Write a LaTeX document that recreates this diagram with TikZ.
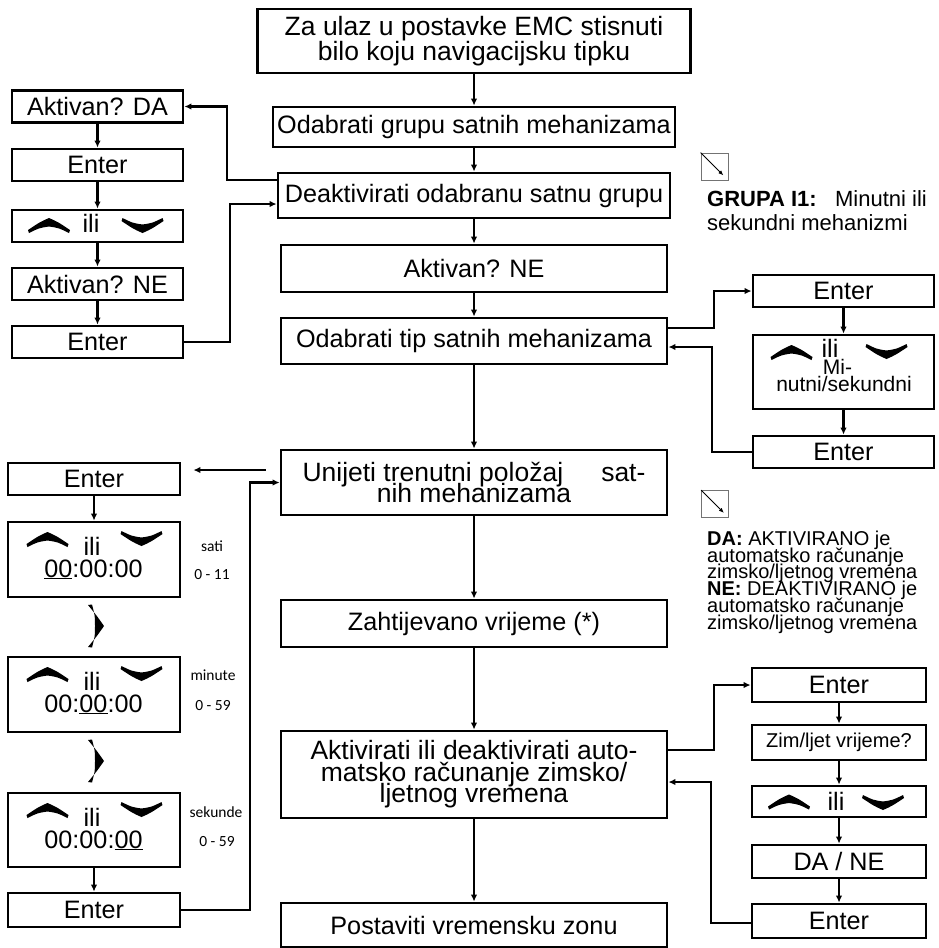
\documentclass[tikz,border=0pt]{standalone}
\usepackage{fontspec}
\setmainfont{Liberation Sans}
\newfontfamily\calibri{Carlito}
\usetikzlibrary{arrows.meta}
\lineskiplimit=-100pt

\begin{document}
\begin{tikzpicture}
	[x=1pt, y=-1pt,%
	box/.style ={draw, line width=2.8pt, inner sep=0pt, align=center, font=\fontsize{25.2}{25}\selectfont},%
	big/.style ={font=\fontsize{26.5}{21.5}\selectfont},%
	main/.style={box, minimum width=386pt},%
	lbox/.style={box, minimum width=171pt, minimum height=32pt},%
	tbox/.style={box, minimum width=172pt},%
	rbox/.style={box, minimum width=174pt},%
	txt/.style ={anchor=base, inner sep=0pt, font=\fontsize{25.2}{25}\selectfont},%
	lbl/.style ={inner sep=0pt, font=\calibri\fontsize{15.5}{16}\selectfont},%
	note/.style={anchor=north west, align=left, inner sep=0pt},%
	icon/.style={draw=black!55, line width=0.8pt, minimum size=27pt, inner sep=0pt},%
	conn/.style={line width=2.1pt, -{Latex[length=7pt,width=6.5pt]}},%
	upchev/.pic={\fill (-21,5) .. controls (-9,-3) .. (0,-7) .. controls (9,-3) .. (21,5) -- (20,8) .. controls (10,3) .. (0,1.5) .. controls (-10,3) .. (-20,8) -- cycle;},%
	dnchev/.pic={\fill (-21,-5) .. controls (-9,3) .. (0,7) .. controls (9,3) .. (21,-5) -- (20,-8) .. controls (10,-3) .. (0,-1.5) .. controls (-10,-3) .. (-20,-8) -- cycle;},%
	rtchev/.pic={\fill (-8,-21) .. controls (1,-10) .. (8,0) .. controls (1,10) .. (-8,21) -- (-4,21.5) .. controls (-1,10) .. (-1,0) .. controls (-1,-10) .. (-4,-21.5) -- cycle;},%
	]

	\useasboundingbox (0,0) rectangle (938,948);

	% main column
	\node[box, minimum width=433pt, minimum height=64pt, font=\fontsize{26.5}{25}\selectfont] (start) at (474,41) {Za ulaz u postavke EMC stisnuti\\bilo koju navigacijsku tipku};
	\node[box, minimum width=402pt, minimum height=40pt] (grupa) at (474,127) {Odabrati grupu satnih mehanizama};
	\node[box, minimum width=392pt, minimum height=45pt] (deakt) at (474,195.5) {Deaktivirati odabranu satnu grupu};
	\node[main, minimum height=47pt] (aktne) at (474,268.5) {Aktivan? NE};
	\node[main, minimum height=46pt] (tip) at (474,341) {Odabrati tip satnih mehanizama};
	\node[main, big, minimum height=65pt] (unos) at (474,482.5) {\makebox[343pt]{Unijeti trenutni položaj\hfill sat-}\\nih mehanizama};
	\node[main, minimum height=47pt] (zahtj) at (474,623.5) {Zahtijevano vrijeme (*)};
	\node[main, big, minimum height=87pt] (ljeto) at (474,774.5) {Aktivirati ili deaktivirati auto-\\matsko računanje zimsko/\\ljetnog vremena};
	\node[main, minimum height=44pt] (zona) at (474,925) {Postaviti vremensku zonu};

	% group on/off
	\node[lbox] (da) at (97.5,106.5) {Aktivan? DA};
	\node[lbox] (ent1) at (97.5,165) {Enter};
	\node[lbox] (ili1) at (97.5,226) {};
	\node[lbox] (ne) at (97.5,284) {Aktivan? NE};
	\node[lbox] (ent2) at (97.5,342) {Enter};
	\pic at (49,225) {upchev};
	\node[txt] (ili1t) at (91,232) {ili};
	\pic at (142.5,226) {dnchev};

	% clock type
	\node[box, minimum width=181pt, minimum height=32pt] (entA) at (843.5,291) {Enter};
	\node[box, minimum width=181pt, minimum height=74pt] (mins) at (843.5,372) {};
	\node[box, minimum width=181pt, minimum height=32pt] (entB) at (843.5,452) {Enter};
	\pic at (791.5,352) {upchev};
	\node[txt] (minst) at (830,357) {ili};
	\pic at (886.5,352) {dnchev};
	\node[txt, font=\fontsize{21}{21}\selectfont] (minsa) at (837.5,374) {Mi-};
	\node[txt, font=\fontsize{21}{21}\selectfont] (minsb) at (844,391) {nutni/sekundni};

	% time entry
	\node[tbox, minimum height=32pt] (entC) at (94,479) {Enter};
	\node[tbox, minimum height=75pt] (sati) at (94,559.5) {};
	\node[tbox, minimum height=75pt] (minu) at (94,694.5) {};
	\node[tbox, minimum height=74pt] (seku) at (94,830) {};
	\node[tbox, minimum height=34pt] (entD) at (94,910) {Enter};
	\foreach \y/\t in {522/{\underline{00}:00:00}, 657/{00:\underline{00}:00}, 793/{00:00:\underline{00}}}
	{
		\pic at (47.5,\y+17) {upchev};
		\node[txt] (ili\y) at (92,\y+33) {ili};
		\pic at (141.5,\y+17) {dnchev};
		\node[txt] (vr\y) at (93.5,\y+55) {\t};
	}
	\pic at (96,626) {rtchev};
	\pic at (96,761) {rtchev};

	\node[lbl] (satil) at (212,546) {sati};
	\node[lbl] (satir) at (212,575) {0 - 11};
	\node[lbl] (minl) at (213,675) {minute};
	\node[lbl] (minr) at (213,706) {0 - 59};
	\node[lbl] (sekl) at (216,812) {sekunde};
	\node[lbl] (sekr) at (217,842) {0 - 59};

	% summer time
	\node[rbox, minimum height=34pt] (entE) at (839,685) {Enter};
	\node[rbox, minimum height=35pt, font=\fontsize{20}{20}\selectfont] (zim) at (839,742.5) {Zim/ljet vrijeme?};
	\node[rbox, minimum height=31pt] (ili3) at (839,801.5) {};
	\node[rbox, minimum height=33pt] (dane) at (839,861.5) {DA / NE};
	\node[rbox, minimum height=34pt] (entF) at (839,921) {Enter};
	\pic at (789,801.5) {upchev};
	\node[txt] (ili3t) at (836,810) {ili};
	\pic at (883,803) {dnchev};

	% notes
	\node[icon] (ico1) at (714.5,166.5) {};
	\draw[line width=0.8pt, -{Latex[length=5pt,width=4pt]}] (ico1.north west) -- ([xshift=-5pt,yshift=5pt]ico1.south east);
	\node[note, font=\fontsize{22}{24}\selectfont] (grupan) at (707,190) {\textbf{GRUPA I1:}\ \ \ Minutni ili\\sekundni mehanizmi};

	\node[icon] (ico2) at (715,504) {};
	\draw[line width=0.8pt, -{Latex[length=5pt,width=4pt]}] (ico2.north west) -- ([xshift=-5pt,yshift=5pt]ico2.south east);
	\node[note, font=\fontsize{20}{16.8}\selectfont] (dan) at (707,530.5) {\textbf{DA:} AKTIVIRANO je\\automatsko računanje\\zimsko/ljetnog vremena\\\textbf{NE:} DEAKTIVIRANO je\\automatsko računanje\\zimsko/ljetnog vremena};

	% connections
	\draw[conn] (start) -- (grupa);
	\draw[conn] (grupa) -- (deakt);
	\draw[conn] (deakt) -- (aktne);
	\draw[conn] (aktne) -- (tip);
	\draw[conn] (tip) -- (unos);
	\draw[conn] (unos) -- (zahtj);
	\draw[conn] (zahtj) -- (ljeto);
	\draw[conn] (ljeto) -- (zona);

	\foreach \a/\b in {da/ent1, ent1/ili1, ili1/ne, ne/ent2, entA/mins, mins/entB, entC/sati, seku/entD, entE/zim, zim/ili3, ili3/dane, dane/entF}
		\draw[conn] (\a) -- (\b);

	\draw[conn] ([yshift=15.5pt]deakt.west) -- ++(-50,0) |- (da.east);
	\draw[conn] (ent2.east) -- ++(45.5,0) |- ([yshift=-8.5pt]deakt.west);

	\draw[conn] ([yshift=13pt]tip.east) -- ++(46,0) |- (entA.west);
	\draw[conn] (entB.west) -- ++(-40,0) |- ([yshift=-6pt]tip.east);

	\draw[conn, shorten <=14pt, shorten >=12pt] ([yshift=12.5pt]unos.west) -- ([yshift=9pt]entC.east);
	\draw[conn] (entD.east) -- ++(69,0) |- (unos.west);

	\draw[conn] ([yshift=24.5pt]ljeto.east) -- ++(46,0) |- (entE.west);
	\draw[conn] ([yshift=-2pt]entF.west) -- ++(-40,0) |- ([yshift=-7.5pt]ljeto.east);

\end{tikzpicture}
\end{document}
